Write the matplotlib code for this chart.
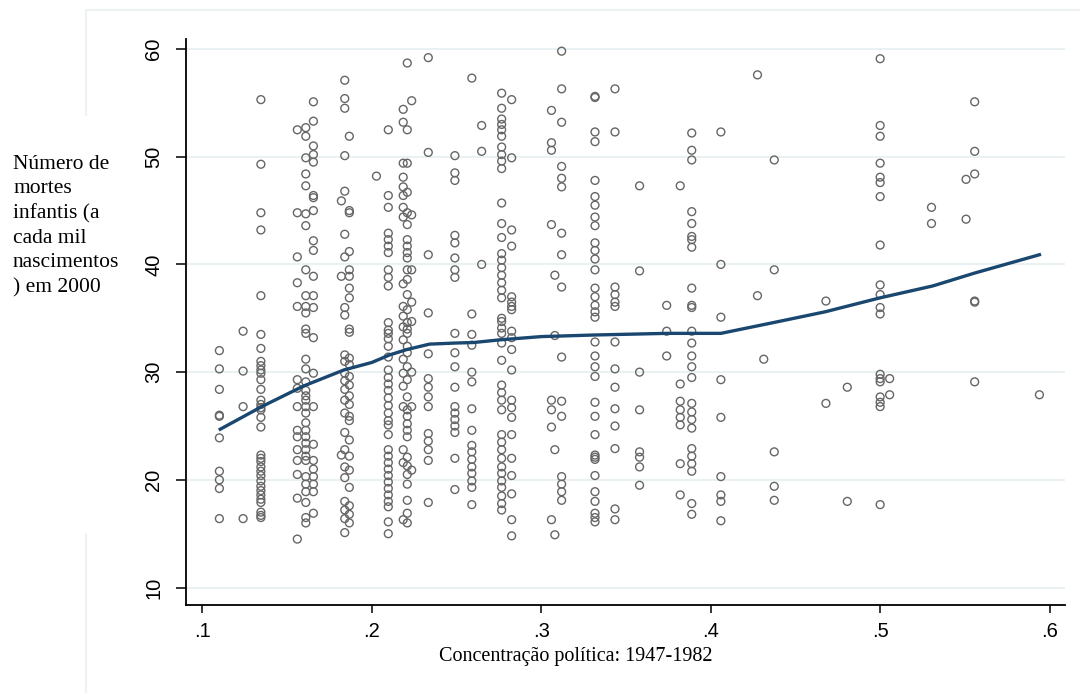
import matplotlib
matplotlib.use("Agg")
import matplotlib.pyplot as plt
from matplotlib.lines import Line2D
import numpy as np

# ---------------- data ----------------
col_0110 = [32.0, 30.3, 28.4, 26.0, 25.9, 23.9, 20.8, 20.0, 19.2, 16.4]
col_0124 = [33.8, 30.1, 26.8, 16.4]
col_0135 = [55.3, 49.3, 44.8, 43.2, 37.1, 33.5, 32.2, 31.0, 30.6, 30.2, 29.9, 29.3,
            28.4, 27.4, 27.0, 26.7, 26.5, 25.8, 24.9, 22.3, 22.0, 21.7, 21.2, 20.8,
            20.4, 19.9, 19.4, 19.0, 18.6, 18.2, 17.9, 17.0, 16.7, 16.5]
col_0156 = [52.5, 44.8, 40.7, 38.3, 36.1, 29.3, 28.5, 26.8, 24.6, 24.0, 22.8, 21.8,
            20.5, 18.3, 14.5]
col_0161 = [52.7, 51.9, 49.9, 48.4, 47.3, 44.7, 43.6, 39.5, 37.1, 36.1, 35.5, 34.0,
            33.6, 31.2, 30.3, 29.1, 28.3, 27.8, 27.4, 26.8, 26.2, 25.3, 24.6, 24.0,
            23.4, 22.8, 22.2, 21.8, 20.3, 19.6, 18.9, 17.9, 16.5, 16.0]
col_0166 = [55.1, 53.3, 51.0, 50.2, 49.5, 46.4, 46.2, 45.0, 42.2, 41.3, 38.9, 37.1,
            36.0, 33.2, 29.9, 26.8, 23.3, 21.8, 21.0, 20.3, 19.6, 18.9, 16.9]
col_0182 = [45.9, 38.9, 22.3]
col_0184 = [57.1, 55.4, 54.5, 50.1, 46.8, 42.8, 40.7, 36.0, 35.3, 31.6, 31.0, 29.9,
            29.2, 28.4, 27.4, 26.2, 24.4, 22.8, 21.2, 20.2, 18.0, 17.2, 16.4, 15.1]
col_0187 = [51.9, 45.0, 44.8, 41.2, 39.5, 38.9, 37.8, 36.9, 34.0, 33.7, 31.3, 30.7,
            29.6, 28.8, 27.8, 27.0, 25.9, 25.5, 23.7, 22.2, 20.9, 19.3, 17.6, 16.8, 16.0]
col_0203 = [48.2]
col_0210 = [52.5, 46.4, 45.3, 42.9, 42.3, 41.7, 41.1, 39.5, 38.8, 38.0, 34.6, 33.9,
            33.6, 33.1, 32.4, 31.4, 30.2, 29.5, 28.9, 28.3, 27.6, 26.9, 26.2, 25.5,
            25.1, 24.2, 22.8, 22.2, 21.6, 21.0, 20.4, 19.8, 19.2, 18.6, 18.0, 17.5,
            16.1, 15.0]
col_0219 = [54.4, 53.2, 49.4, 48.1, 47.2, 46.4, 45.3, 44.4, 38.2, 36.1, 35.2, 34.2,
            33.0, 31.2, 29.9, 28.7, 26.8, 22.8, 21.6, 16.3]
col_0221 = [58.7, 52.5, 49.4, 46.7, 44.8, 43.7, 42.3, 41.7, 41.1, 40.6, 39.5, 38.6,
            37.2, 35.8, 34.6, 34.0, 33.6, 32.4, 31.8, 30.5, 29.3, 27.7, 26.5, 25.9,
            25.2, 24.6, 24.0, 22.1, 21.3, 20.5, 19.6, 18.1, 16.9, 16.0]
col_0224 = [55.2, 44.6, 39.5, 36.5, 34.7, 30.0, 26.8, 20.9]
col_0233 = [59.2, 50.4, 40.9, 35.5, 31.7, 29.4, 28.6, 27.7, 26.8, 24.3, 23.6, 22.8,
            21.8, 17.9]
col_0249 = [50.1, 48.5, 47.8, 42.7, 42.0, 40.6, 39.5, 38.8, 33.6, 31.8, 30.5, 28.6,
            26.8, 26.2, 25.6, 25.0, 24.4, 22.0, 19.1]
col_0259 = [57.3, 35.4, 33.5, 32.5, 30.0, 29.1, 26.6, 24.6, 23.2, 22.6, 21.9, 21.2,
            20.6, 19.9, 19.3, 17.7]
col_0265 = [52.9, 50.5, 40.0]
col_0277 = [55.9, 54.5, 53.5, 53.0, 52.5, 51.9, 50.9, 50.2, 49.6, 48.9, 45.7, 43.8,
            42.5, 41.0, 40.4, 39.7, 39.0, 38.3, 37.6, 36.9, 35.0, 34.1, 34.7, 33.6,
            32.7, 31.1, 28.8, 28.1, 27.4, 26.5, 24.2, 23.5, 22.8, 22.0, 21.2, 20.6,
            19.9, 19.3, 18.5, 17.8, 17.2]
col_0283 = [55.3, 49.9, 43.2, 41.7, 37.0, 36.5, 36.1, 35.8, 33.8, 33.2, 32.1, 30.2,
            27.4, 26.7, 25.8, 24.2, 22.0, 20.4, 18.7, 16.3, 14.8]
col_0306 = [54.3, 51.3, 50.6, 43.7, 27.4, 26.5, 24.9, 16.3]
col_0308 = [39.0, 33.4, 22.8, 14.9]
col_0312 = [59.8, 56.3, 53.2, 49.1, 48.0, 47.2, 42.9, 40.9, 37.9, 31.4, 27.3, 25.9,
            20.3, 19.6, 18.9, 18.1]
col_0332 = [55.5, 55.6, 52.3, 51.4, 47.8, 46.3, 45.5, 44.4, 43.6, 42.0, 41.3, 40.5,
            39.5, 37.8, 37.0, 36.2, 35.6, 35.1, 32.8, 31.5, 30.5, 29.6, 27.2, 25.9,
            24.2, 22.3, 22.1, 21.9, 20.4, 18.9, 18.0, 16.9, 16.5, 16.1]
col_0344 = [56.3, 52.3, 37.9, 37.2, 36.5, 36.1, 32.8, 30.3, 28.6, 26.6, 25.0, 22.9,
            17.3, 16.3]
col_0358 = [47.3, 39.4, 30.0, 26.5, 22.6, 22.1, 21.2, 19.5]
col_0374 = [36.2, 33.8, 31.5]
col_0382 = [47.3, 28.9, 27.3, 26.5, 25.8, 25.1, 21.5, 18.6]
col_0389 = [52.2, 50.6, 49.7, 44.9, 43.8, 42.6, 42.3, 41.6, 37.8, 36.2, 36.0, 33.8,
            32.7, 31.5, 30.5, 29.5, 27.1, 26.3, 25.6, 24.8, 22.9, 22.2, 21.5, 20.8,
            17.8, 16.8]
col_0406 = [52.3, 40.0, 35.1, 29.3, 25.8, 20.3, 18.6, 18.0, 16.2]
col_0428 = [57.6, 37.1]
col_0431 = [31.2]
col_0438 = [49.7, 39.5, 22.6, 19.4, 18.1]
col_0468 = [36.6, 27.1]
col_0481 = [28.6, 18.0]
col_0500 = [59.1, 52.9, 51.9, 49.4, 48.1, 47.6, 46.3, 41.8, 38.1, 37.2, 36.0, 35.4,
            29.8, 29.4, 29.1, 27.7, 27.2, 26.8, 17.7]
col_0506 = [29.4, 27.9]
col_0530 = [45.3, 43.8]
col_0551 = [47.9, 44.2]
col_0556 = [55.1, 50.5, 48.4, 36.6, 36.5, 29.1]
col_0594 = [27.9]

col_x = [0.110, 0.124, 0.1345, 0.156, 0.161, 0.1655, 0.182, 0.184, 0.1867, 0.2027,
         0.2097, 0.2185, 0.2209, 0.2235, 0.2333, 0.249, 0.259, 0.2648, 0.2766, 0.2825,
         0.306, 0.308, 0.312, 0.3317, 0.3435, 0.358, 0.374, 0.382, 0.3888, 0.406,
         0.4276, 0.4313, 0.4375, 0.468, 0.4806, 0.500, 0.5056, 0.5303, 0.5507, 0.5558,
         0.594]
col_y = [col_0110, col_0124, col_0135, col_0156, col_0161, col_0166, col_0182, col_0184,
         col_0187, col_0203, col_0210, col_0219, col_0221, col_0224, col_0233, col_0249,
         col_0259, col_0265, col_0277, col_0283, col_0306, col_0308, col_0312, col_0332,
         col_0344, col_0358, col_0374, col_0382, col_0389, col_0406, col_0428, col_0431,
         col_0438, col_0468, col_0481, col_0500, col_0506, col_0530, col_0551, col_0556,
         col_0594]

# smoothed (lowess) line
line_x = [0.1105, 0.135, 0.1595, 0.1835, 0.200, 0.2105, 0.2207, 0.234, 0.249, 0.260,
          0.2757, 0.300, 0.3317, 0.374, 0.406, 0.437, 0.4675, 0.500, 0.531, 0.5558, 0.594]
line_y = [24.7, 26.8, 28.7, 30.2, 30.9, 31.6, 32.1, 32.6, 32.7, 32.75,
          33.0, 33.3, 33.45, 33.6, 33.6, 34.6, 35.6, 36.9, 38.0, 39.2, 40.9]

x_ticks = [0.1, 0.2, 0.3, 0.4, 0.5, 0.6]
x_ticklabels = [".1", ".2", ".3", ".4", ".5", ".6"]
y_ticks = [10, 20, 30, 40, 50, 60]
y_ticklabels = ["10", "20", "30", "40", "50", "60"]

x_title = "Concentração política: 1947-1982"
y_title = "Número de\nmortes\ninfantis (a\ncada mil\nnascimentos\n) em 2000"

# ---------------- figure ----------------
W, H = 1080, 693
fig = plt.figure(figsize=(W / 100, H / 100), dpi=100)
fig.patch.set_facecolor("white")

L, R, B, T = 186, 1065, 605, 39
ax = fig.add_axes([L / W, 1 - B / H, (R - L) / W, (B - T) / H])

xs = np.concatenate([np.full(len(ys), x) for x, ys in zip(col_x, col_y)])
ys_all = np.concatenate([np.asarray(ys, float) for ys in col_y])
ax.scatter(xs, ys_all, s=32, facecolors="none", edgecolors="#666666",
           linewidths=1.0, zorder=3)
ax.plot(line_x, line_y, color="#1a476f", lw=2.4, zorder=4)

ax.set_xlim(0.0903, 0.6091)
ax.set_ylim(8.38, 60.93)

for s in ["top", "right"]:
    ax.spines[s].set_visible(False)
for s in ["left", "bottom"]:
    ax.spines[s].set_linewidth(1.3)
    ax.spines[s].set_color("black")

ax.set_yticks(y_ticks)
ax.set_yticklabels(y_ticklabels, rotation=90, va="center",
                   fontfamily="Liberation Sans", fontsize=14.5)
ax.set_xticks(x_ticks)
ax.set_xticklabels(x_ticklabels, fontfamily="Liberation Sans", fontsize=14.5)
ax.tick_params(axis="y", length=7.5, width=1.1, pad=9)
ax.tick_params(axis="x", length=6, width=1.1, pad=6)

ax.yaxis.grid(True, color="#e8f0f2", lw=1.3)
ax.set_axisbelow(True)

fig.text(576 / W, 1 - 657 / H, x_title, ha="center", va="center",
         fontfamily="Liberation Serif", fontsize=14.5)
fig.text(13 / W, 1 - 155 / H, y_title, ha="left", va="top",
         fontfamily="Liberation Serif", fontsize=15.5, linespacing=1.39)

# faint graph-region outline
fig.add_artist(Line2D([86 / W, 1.0], [1 - 10 / H, 1 - 10 / H], color="#edf2f3", lw=1.5))
fig.add_artist(Line2D([86 / W, 86 / W], [1 - 10 / H, 1 - 115 / H], color="#edf2f3", lw=1.5))
fig.add_artist(Line2D([86 / W, 86 / W], [1 - 535 / H, 0.0], color="#edf2f3", lw=1.5))

fig.savefig("out.png", dpi=100)
